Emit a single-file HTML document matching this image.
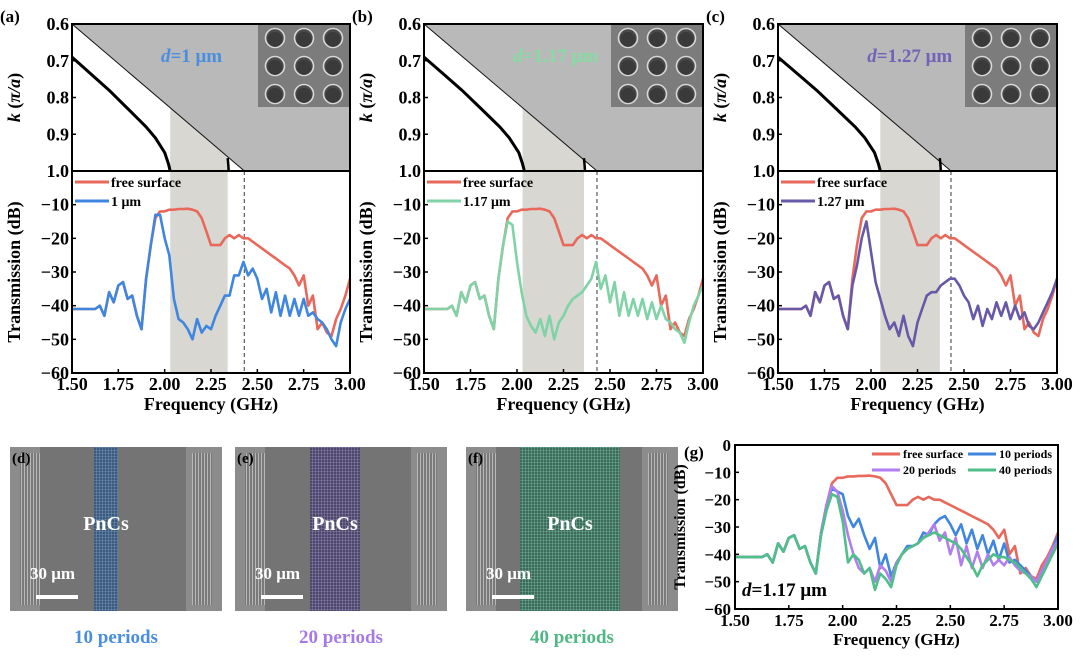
<!DOCTYPE html>
<html><head><meta charset="utf-8"><style>
body{margin:0;background:#fff}
svg{display:block;font-family:"Liberation Serif",serif;font-weight:bold}
</style></head><body>
<svg id="fig" width="1080" height="657" viewBox="0 0 1080 657">
<defs>
<pattern id="gridB" width="3" height="3" patternUnits="userSpaceOnUse"><rect width="3" height="3" fill="#3d5a7a"/><path d="M0 0H3M0 0V3" stroke="#8fb8e8" stroke-width="0.6"/></pattern>
<pattern id="gridP" width="3" height="3" patternUnits="userSpaceOnUse"><rect width="3" height="3" fill="#4e4868"/><path d="M0 0H3M0 0V3" stroke="#b8a8e8" stroke-width="0.6"/></pattern>
<pattern id="gridG" width="3" height="3" patternUnits="userSpaceOnUse"><rect width="3" height="3" fill="#3d6a5a"/><path d="M0 0H3M0 0V3" stroke="#8fe0c0" stroke-width="0.6"/></pattern>
<pattern id="idt" width="3" height="10" patternUnits="userSpaceOnUse"><rect width="3" height="10" fill="#7a7a7a"/><rect width="1" height="10" fill="#b8b8b8"/></pattern>
</defs>
</svg>
<script>
const freq=[1.50,1.525,1.55,1.575,1.60,1.625,1.65,1.675,1.70,1.725,1.75,1.775,1.80,1.825,1.85,1.875,1.90,1.925,1.95,1.975,2.00,2.025,2.05,2.075,2.10,2.125,2.15,2.175,2.20,2.225,2.25,2.275,2.30,2.325,2.35,2.375,2.40,2.425,2.45,2.475,2.50,2.525,2.55,2.575,2.60,2.625,2.65,2.675,2.70,2.725,2.75,2.775,2.80,2.825,2.85,2.875,2.90,2.925,2.95,2.975,3.00];
const low=[-41,-41,-41,-41,-41,-41,-40,-43,-36,-39,-34,-33,-38,-37,-43,-47];
const freeSurface=low.concat([-32,-22,-14,-12,-12,-11.5,-11.5,-11.3,-11.3,-11.2,-11.5,-12,-14,-18,-22,-22,-22,-20,-19,-20,-19,-20,-20,-21,-22,-23,-24,-25,-26,-27,-28,-29,-31,-34,-31,-40,-37,-47,-45,-48,-49,-44,-41,-37,-32]);
const d100=low.concat([-32,-22,-13,-13,-20,-25,-38,-44,-45,-47,-50,-44,-48,-46,-47,-43,-40,-37,-37,-31,-31,-27,-31,-29,-32,-38,-35,-42,-36,-43,-37,-43,-38,-43,-38,-43,-42,-44,-45,-47,-50,-52,-45,-41,-38]);
const d117=low.concat([-32,-22,-15,-16,-27,-36,-43,-46,-48,-44,-49,-43,-50,-45,-43,-40,-38,-37,-36,-34,-32,-27,-35,-31,-39,-33,-43,-36,-43,-38,-43,-38,-44,-39,-44,-40,-44,-45,-47,-48,-51,-45,-40,-37,-34]);
const d127=low.concat([-34,-28,-20,-15,-24,-33,-38,-43,-47,-45,-49,-43,-49,-52,-45,-41,-37,-36,-36,-34,-33,-32,-32,-34,-37,-39,-44,-40,-46,-41,-44,-39,-43,-39,-44,-40,-44,-42,-46,-47,-45,-42,-39,-36,-32]);
const p10=low.concat([-32,-22,-16,-17,-18,-26,-30,-27,-33,-38,-34,-45,-40,-48,-43,-40,-37,-37,-36,-32,-33,-29,-27,-26,-29,-33,-29,-36,-31,-38,-33,-40,-35,-42,-36,-43,-42,-44,-46,-48,-50,-46,-43,-38,-33]);
const p20=low.concat([-32,-22,-15,-17,-24,-33,-40,-45,-47,-45,-50,-44,-46,-50,-43,-40,-38,-37,-36,-34,-32,-29,-35,-32,-40,-34,-44,-37,-45,-39,-45,-40,-44,-42,-44,-41,-44,-46,-47,-48,-50,-46,-42,-38,-35]);
const p40=low.concat([-33,-24,-18,-19,-28,-43,-40,-42,-47,-45,-53,-47,-49,-52,-44,-40,-38,-37,-36,-34,-33,-32,-33,-34,-35,-36,-38,-41,-44,-48,-44,-42,-40,-41,-41,-42,-43,-45,-47,-49,-52,-48,-44,-40,-36]);
const xTicks=["1.50","1.75","2.00","2.25","2.50","2.75","3.00"];
const kTicks=["0.6","0.7","0.8","0.9","1.0"];
const dbTicks=[-10,-20,-30,-40,-50,-60];
const gTicks=[0,-10,-20,-30,-40,-50,-60];
const dispF=[1.50,1.60,1.70,1.80,1.90,1.95,2.00,2.02];
const dispK=[0.69,0.735,0.78,0.83,0.88,0.91,0.95,0.98];

const NS="http://www.w3.org/2000/svg";
const svg=document.getElementById('fig');
function mk(tag,attrs,parent,text){const e=document.createElementNS(NS,tag);for(const k in attrs)e.setAttribute(k,attrs[k]);if(text!==undefined)e.textContent=text;(parent||svg).appendChild(e);return e;}
function pathFrom(xs,ys,sx,sy){return xs.map((x,i)=>(i?'L':'M')+sx(x).toFixed(1)+' '+sy(ys[i]).toFixed(1)).join(' ');}

const panels=[
 {L:72,R:350,tag:"(a)",band:[2.03,2.34],edge:2.03,series:d100,col:"#3f86e0",lab:"1 μm",dlab:"1 μm",dcol:"#4a8ee0",name:"a"},
 {L:424,R:703,tag:"(b)",band:[2.03,2.36],edge:2.04,series:d117,col:"#7fd3a6",lab:"1.17 μm",dlab:"1.17 μm",dcol:"#86dca2",name:"b"},
 {L:778,R:1057,tag:"(c)",band:[2.05,2.37],edge:2.05,series:d127,col:"#6858a8",lab:"1.27 μm",dlab:"1.27 μm",dcol:"#7262b8",name:"c"}];
const T=24,M=171,B=373;
panels.forEach(p=>{
 const g=mk('g',{});
 
 
 const sx=f=>p.L+(f-1.5)/1.5*(p.R-p.L);
 const sk=k=>T+(k-0.6)/0.4*(M-T);
 const sd=d=>M+(-d)/60*(B-M);
 const gr=mk('polygon',{points:`${sx(1.5)},${T} ${p.R},${T} ${p.R},${M} ${sx(2.43)},${M}`,fill:'#b9b9b9'},g);
 
 const bd=mk('rect',{x:sx(p.band[0]),y:M,width:sx(p.band[1])-sx(p.band[0]),height:B-M,fill:'#d9d7d2'},g);
 
 mk('polygon',{points:`${sx(p.band[0])},${sk(0.6+0.4*(p.band[0]-1.5)/0.93)} ${sx(p.band[1])},${sk(0.6+0.4*(p.band[1]-1.5)/0.93)} ${sx(p.band[1])},${M} ${sx(p.band[0])},${M}`,fill:'#d9d7d2'},g);
 mk('line',{x1:sx(1.5),y1:T,x2:sx(2.43),y2:M,stroke:'#111','stroke-width':1},g);
 const dfs=dispF.map(f=>f+(p.edge-2.03)*(f-1.5)/0.53);
 const dc=mk('path',{d:pathFrom(dfs.concat([p.edge]),dispK.concat([1.0]),sx,sk),fill:'none',stroke:'#000','stroke-width':3},g);
 
 mk('path',{d:`M${sx(p.band[1])} ${sk(0.965)} Q${sx(p.band[1]+0.005)} ${sk(0.99)} ${sx(p.band[1]+0.005)} ${M}`,fill:'none',stroke:'#000','stroke-width':2.5},g);
 const ix=p.R-92;
 const ins=mk('g',{},g);
 mk('rect',{x:ix,y:T,width:92,height:83,fill:'#7c7c7c'},ins);
 for(let r=0;r<3;r++)for(let c=0;c<3;c++){
  mk('circle',{cx:ix+17+c*29,cy:T+14+r*28,r:9.5,fill:'#4a4a4a',stroke:'#d8d8d8','stroke-width':1.6},ins);
  mk('circle',{cx:ix+17+c*29,cy:T+15.5+r*28,r:7.5,fill:'#3a3a3a'},ins);}
 const dl=mk('text',{x:sx(1.98),y:T+38,fill:p.dcol,'font-size':19},g);
 
 mk('tspan',{'font-style':'italic'},dl,'d');mk('tspan',{},dl,'='+p.dlab);
 mk('line',{x1:sx(2.43),y1:M,x2:sx(2.43),y2:B,stroke:'#666','stroke-width':1.3,'stroke-dasharray':'4 3'},g);
 const fsl=mk('path',{d:pathFrom(freq,freeSurface,sx,sd),fill:'none',stroke:'#e8695c','stroke-width':2.6,'stroke-linejoin':'round'},g);
 
 const sl=mk('path',{d:pathFrom(freq,p.series,sx,sd),fill:'none',stroke:p.col,'stroke-width':2.6,'stroke-linejoin':'round'},g);
 
 mk('line',{x1:p.L+3,y1:182,x2:p.L+37,y2:182,stroke:'#e8695c','stroke-width':3},g);
 mk('text',{x:p.L+39,y:187,'font-size':14},g,'free surface');
 mk('line',{x1:p.L+3,y1:201,x2:p.L+37,y2:201,stroke:p.col,'stroke-width':3},g);
 mk('text',{x:p.L+39,y:206,'font-size':14},g,p.lab);
 mk('rect',{x:p.L,y:T,width:p.R-p.L,height:B-T,fill:'none',stroke:'#000','stroke-width':2},g);
 mk('line',{x1:p.L,y1:M,x2:p.R,y2:M,stroke:'#000','stroke-width':2},g);
 xTicks.forEach(t=>{const x=sx(+t);mk('line',{x1:x,y1:B,x2:x,y2:B-4,stroke:'#000','stroke-width':1.5},g);
  mk('text',{x:x,y:B+17,'font-size':18,'text-anchor':'middle'},g,t);});
 kTicks.forEach(t=>{const y=sk(+t);mk('line',{x1:p.L,y1:y,x2:p.L+4,y2:y,stroke:'#000','stroke-width':1.5},g);
  mk('text',{x:p.L-3,y:y+6,'font-size':18,'text-anchor':'end'},g,t);});
 dbTicks.forEach(t=>{const y=sd(t);mk('line',{x1:p.L,y1:y,x2:p.L+4,y2:y,stroke:'#000','stroke-width':1.5},g);
  mk('text',{x:p.L-3,y:y+6,'font-size':18,'text-anchor':'end'},g,'−'+Math.abs(t));});
 mk('text',{x:p.L-72,y:22,'font-size':17},g,p.tag);
 mk('text',{x:(p.L+p.R)/2,y:B+37,'font-size':18,'text-anchor':'middle'},g,'Frequency (GHz)');
 const kt=mk('text',{transform:`translate(${p.L-52},${(T+M)/2}) rotate(-90)`,'font-size':18,'text-anchor':'middle'},g);
 mk('tspan',{'font-style':'italic'},kt,'k');mk('tspan',{},kt,' (');mk('tspan',{'font-style':'italic'},kt,'π/a');mk('tspan',{},kt,')');
 mk('text',{transform:`translate(${p.L-52},${(M+B)/2}) rotate(-90)`,'font-size':18,'text-anchor':'middle'},g,'Transmission (dB)');
});

const sems=[{x:10,tag:"(d)",fill:"url(#gridB)",w:24,lab:"10 periods",col:"#4a8ee0",name:"d"},
 {x:235,tag:"(e)",fill:"url(#gridP)",w:50,lab:"20 periods",col:"#a57ae8",name:"e"},
 {x:466,tag:"(f)",fill:"url(#gridG)",w:100,lab:"40 periods",col:"#4fb884",name:"f"}];
sems.forEach(s=>{
 const g=mk('g',{});
 const W=212,Y=447,H=164;
 mk('rect',{x:s.x,y:Y,width:W,height:H,fill:'#8c8c8c'},g);
 mk('rect',{x:s.x+10,y:Y+6,width:20,height:H-12,fill:'url(#idt)'},g);
 mk('rect',{x:s.x+W-30,y:Y+6,width:20,height:H-12,fill:'url(#idt)'},g);
 mk('rect',{x:s.x+30,y:Y,width:W-66,height:H,fill:'#747474'},g);
 const cx=s.x+W/2-(s.name==='d'?10:s.name==='e'?6:2);
 mk('rect',{x:cx-s.w/2,y:Y,width:s.w,height:H,fill:s.fill},g);
 mk('text',{x:cx,y:Y+83,'font-size':20,fill:'#fff','text-anchor':'middle'},g,'PnCs');
 mk('text',{x:s.x+20,y:Y+132,'font-size':17,fill:'#fff'},g,'30 μm');
 mk('rect',{x:s.x+26,y:Y+148,width:42,height:4,fill:'#fff'},g);
 mk('text',{x:s.x+2,y:Y+16,'font-size':15},g,s.tag);
 mk('text',{x:s.x+W/2,y:643,'font-size':19,fill:s.col,'text-anchor':'middle'},g,s.lab);
});

(function(){
 const L=735,R=1058,Tg=445,Bg=609;
 const g=mk('g',{});
 const sx=f=>L+(f-1.5)/1.5*(R-L);const sy=d=>Tg+(-d)/60*(Bg-Tg);
 const defs=[[freeSurface,'#e8695c','free-surface-line'],[p10,'#3f86e0','10-periods-line'],[p20,'#b07ef0','20-periods-line'],[p40,'#4fbf8a','40-periods-line']];
 defs.forEach(d=>{const l=mk('path',{d:pathFrom(freq,d[0],sx,sy),fill:'none',stroke:d[1],'stroke-width':2.6,'stroke-linejoin':'round'},g);
  });
 mk('rect',{x:L,y:Tg,width:R-L,height:Bg-Tg,fill:'none',stroke:'#000','stroke-width':2},g);
 xTicks.forEach(t=>{const x=sx(+t);mk('line',{x1:x,y1:Bg,x2:x,y2:Bg-4,stroke:'#000','stroke-width':1.5},g);
  mk('text',{x:x,y:Bg+17,'font-size':17,'text-anchor':'middle'},g,t);});
 gTicks.forEach(t=>{const y=sy(t);mk('line',{x1:L,y1:y,x2:L+4,y2:y,stroke:'#000','stroke-width':1.5},g);
  mk('text',{x:L-4,y:y+6,'font-size':17,'text-anchor':'end'},g,t===0?'0':'−'+Math.abs(t));});
 mk('text',{x:684,y:458,'font-size':17},g,'(g)');
 mk('text',{x:(L+R)/2,y:645,'font-size':17,'text-anchor':'middle'},g,'Frequency (GHz)');
 mk('text',{transform:`translate(${L-50},${(Tg+Bg)/2}) rotate(-90)`,'font-size':16,'text-anchor':'middle'},g,'Transmission (dB)');
 const leg=[[872,454,'#e8695c','free surface'],[968,454,'#3f86e0','10 periods'],[872,470,'#b07ef0','20 periods'],[968,470,'#4fbf8a','40 periods']];
 leg.forEach(e=>{mk('line',{x1:e[0],y1:e[1],x2:e[0]+28,y2:e[1],stroke:e[2],'stroke-width':3},g);
  mk('text',{x:e[0]+31,y:e[1]+4,'font-size':12},g,e[3]);});
 const dl=mk('text',{x:742,y:596,'font-size':19},g);
 
 mk('tspan',{'font-style':'italic'},dl,'d');mk('tspan',{},dl,'=1.17 μm');
})();
</script>
</body></html>
